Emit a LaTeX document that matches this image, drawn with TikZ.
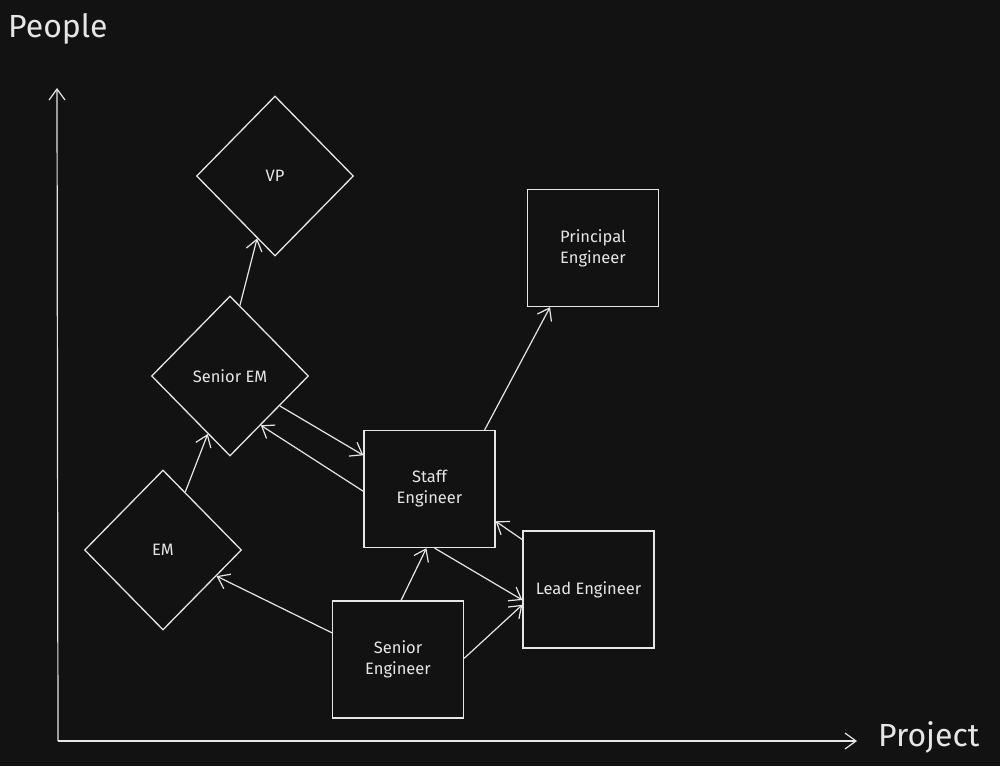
\documentclass[tikz,border=0pt]{standalone}
\usepackage{fontspec}
\setmainfont{Fira Sans}
\usetikzlibrary{arrows.meta,shapes.geometric}
\definecolor{Ink}{HTML}{121212}
\definecolor{Chalk}{HTML}{E6E6E6}

\begin{document}
\begin{tikzpicture}[
    x=1pt,y=-1pt,
    role/.style={draw=Chalk,line width=1.3pt,text=Chalk,align=center,inner sep=0pt,
      font=\fontsize{16.5}{21}\selectfont},
    rung/.style={role,diamond,minimum width=157pt,minimum height=160pt},
    seat/.style={role,rectangle,minimum width=131pt,minimum height=117pt},
    arrow/.style={-{Straight Barb[length=11pt,width=16pt]},line width=1.2pt,draw=Chalk},
    axis/.style={arrow,line width=1.2pt},
    title/.style={text=Chalk,font=\fontsize{32}{38}\selectfont,inner sep=0pt}
]
\fill[Ink] (0,0) rectangle (1000,766);
\useasboundingbox (0,0) rectangle (1000,766);
% axes
\coordinate (origin) at (58,741);
\coordinate (ytip) at (57,88);
\coordinate (xtip) at (857,741);
\draw[axis] (origin) -- (ytip);
\draw[axis] (origin) -- (xtip);
\node[title,anchor=base west] (people) at (8,37) {People};
\node[title,anchor=base west] (project) at (878,746) {Project};
% management track
\node[rung] (vp) at (275,176) {VP};
\node[rung] (sem) at (230,376) {Senior EM};
\node[rung] (em) at (163,550) {EM};
% engineering track
\node[seat] (principal) at (593,248) {Principal\\Engineer};
\node[seat] (staff) at (429.5,489) {Staff\\Engineer};
\node[seat] (lead) at (588.5,589.5) {Lead Engineer};
\node[seat] (senior) at (398,659.5) {Senior\\Engineer};
% moves
\draw[arrow] (sem.82) -- (vp.254);
\draw[arrow] (em.69) -- (sem.249);
\draw[arrow] (sem.329) -- (staff.153);
\draw[arrow] (staff.182) -- (sem.302);
\draw[arrow] (staff.47) -- (principal.234);
\draw[arrow] (senior.87) -- (staff.267);
\draw[arrow] (staff.275) -- (lead.189);
\draw[arrow] (senior.1) -- (lead.193);
\draw[arrow] (lead.143) -- (staff.334);
\draw[arrow] (senior.158) -- (em.334);
\end{tikzpicture}
\end{document}
